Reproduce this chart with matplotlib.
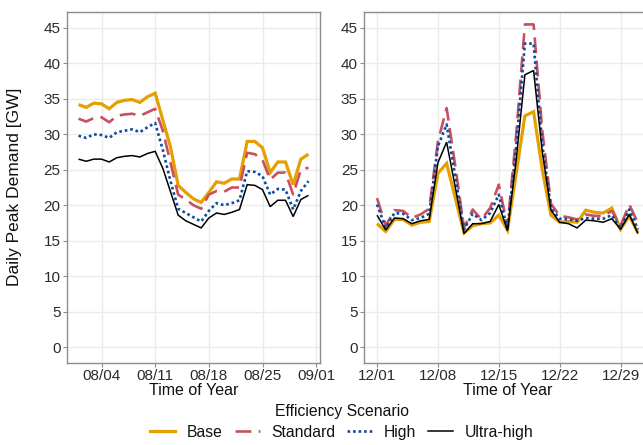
import matplotlib
matplotlib.use("Agg")
import matplotlib.pyplot as plt
import matplotlib.dates as mdates
from matplotlib.lines import Line2D
import pandas as pd

plt.rcParams["font.family"] = ["Liberation Sans", "DejaVu Sans"]

# --- data: daily peak demand [GW] per efficiency scenario ---
aug_days = pd.date_range("2018-08-01", "2018-08-31", freq="D")
dec_days = pd.date_range("2018-12-01", "2018-12-31", freq="D")

scenarios = ["Base", "Standard", "High", "Ultra-high"]

base_aug = [34.2, 33.8, 34.4, 34.3, 33.6, 34.5, 34.8, 34.9, 34.5, 35.3, 35.8,
            32.0, 28.2, 22.8, 21.8, 20.9, 20.4, 21.8, 23.3, 23.1, 23.7, 23.7,
            29.0, 29.0, 28.1, 24.6, 26.1, 26.1, 22.9, 26.5, 27.2]
std_aug = [32.2, 31.8, 32.3, 32.4, 31.7, 32.6, 32.8, 32.9, 32.6, 33.1, 33.6,
           30.5, 26.0, 21.5, 20.8, 20.0, 19.5, 21.5, 22.0, 21.9, 22.5, 22.5,
           27.4, 27.2, 26.4, 23.6, 24.6, 24.6, 21.5, 25.0, 25.3]
high_aug = [29.8, 29.5, 30.0, 29.9, 29.5, 30.3, 30.5, 30.7, 30.3, 31.0, 31.6,
            27.8, 23.4, 19.5, 18.9, 18.3, 17.7, 19.2, 20.3, 20.0, 20.3, 20.7,
            24.8, 24.7, 24.1, 21.5, 22.3, 22.2, 19.4, 22.0, 23.4]
ultra_aug = [26.5, 26.2, 26.5, 26.5, 26.1, 26.7, 26.9, 27.0, 26.8, 27.3, 27.6,
             25.2, 21.9, 18.6, 17.8, 17.3, 16.8, 18.2, 18.9, 18.7, 19.0, 19.4,
             22.9, 22.8, 22.2, 19.8, 20.7, 20.7, 18.4, 20.8, 21.4]

base_dec = [17.4, 16.3, 18.0, 18.0, 17.2, 17.6, 17.7, 24.5, 25.9, 21.0, 16.1,
            17.1, 17.4, 17.5, 18.6, 16.5, 24.5, 32.6, 33.2, 25.0, 18.6, 17.6,
            17.7, 17.6, 19.3, 19.0, 18.9, 19.6, 16.6, 18.5, 16.1]
std_dec = [21.0, 17.1, 19.3, 19.2, 18.2, 18.7, 19.5, 29.0, 33.7, 25.5, 16.8,
           19.4, 18.0, 19.6, 22.9, 17.0, 30.0, 45.5, 45.5, 30.5, 20.2, 18.5,
           18.3, 18.0, 18.7, 18.5, 18.5, 19.2, 17.1, 20.1, 17.5]
high_dec = [20.1, 16.8, 18.9, 18.8, 17.9, 18.2, 18.8, 28.3, 31.4, 24.0, 16.6,
            18.8, 17.9, 18.9, 21.5, 16.6, 28.3, 42.8, 42.8, 28.5, 19.6, 18.1,
            18.0, 17.8, 18.2, 18.1, 18.1, 18.6, 16.8, 19.4, 16.6]
ultra_dec = [18.6, 16.5, 18.2, 18.1, 17.4, 17.8, 18.0, 26.0, 28.9, 22.5, 16.0,
             17.4, 17.4, 17.7, 20.1, 16.4, 26.4, 38.4, 39.0, 27.5, 19.3, 17.6,
             17.4, 16.8, 17.9, 17.8, 17.6, 18.1, 16.6, 18.7, 16.0]

y_ticks = [0, 5, 10, 15, 20, 25, 30, 35, 40, 45]

# --- line styles per scenario ---
styles = {
    "Base": dict(color="#E69F00", lw=2.3, ls="-"),
    "Standard": dict(color="#C9505F", lw=1.9, dashes=(6.0, 2.8)),
    "High": dict(color="#0A4C9E", lw=1.9, dashes=(1.0, 1.1)),
    "Ultra-high": dict(color="#000000", lw=1.1, ls="-"),
}
draw_order = ["Base", "Standard", "High", "Ultra-high"]

W, H = 643, 445
fig = plt.figure(figsize=(W / 100, H / 100), dpi=100)

ax_l = fig.add_axes([67 / W, 1 - 363 / H, (320 - 67) / W, (363 - 12) / H])
ax_r = fig.add_axes([364 / W, 1 - 363 / H, (651 - 364) / W, (363 - 12) / H])

panels = [
    (ax_l, aug_days, [base_aug, std_aug, high_aug, ultra_aug]),
    (ax_r, dec_days, [base_dec, std_dec, high_dec, ultra_dec]),
]

for ax, days, series in panels:
    for name, vals in zip(scenarios, series):
        st = dict(styles[name])
        ax.plot(days, vals, solid_capstyle="butt", dash_capstyle="butt",
                solid_joinstyle="miter", **st)
    pad = pd.Timedelta(days=1.5)
    ax.set_xlim(days[0] - pad, days[-1] + pad)
    ax.set_ylim(-2.25, 47.25)
    ax.set_yticks(y_ticks)
    ax.xaxis.set_major_locator(mdates.WeekdayLocator(byweekday=mdates.SA))
    ax.xaxis.set_major_formatter(mdates.DateFormatter("%m/%d"))
    ax.grid(True, color="#EBEBEB", lw=1.0)
    ax.set_axisbelow(True)
    for sp in ax.spines.values():
        sp.set_color("#8C8C8C")
        sp.set_linewidth(1.0)
    ax.tick_params(axis="both", length=3, width=0.8, color="#8C8C8C",
                   labelsize=11, labelcolor="#2B2B2B", pad=1.5)
    ax.set_xlabel("Time of Year", fontsize=11.5, color="#111111", labelpad=0)

fig.text(15 / W, 1 - 187 / H, "Daily Peak Demand [GW]", rotation=90,
         ha="center", va="center", fontsize=12.5, color="#111111")

handles = [Line2D([0], [0], **styles[n]) for n in draw_order]
leg = fig.legend(handles, draw_order, loc="upper center", ncol=4,
                 bbox_to_anchor=(342 / W, 1 - 404 / H), frameon=False,
                 title="Efficiency Scenario", fontsize=11.3, title_fontsize=11.3,
                 handlelength=1.6, handletextpad=0.75, columnspacing=0.75,
                 borderaxespad=0, borderpad=0, labelspacing=0.3)
leg._legend_box.sep = 4
leg.get_title().set_color("#111111")
for t in leg.get_texts():
    t.set_color("#111111")

fig.savefig("out.png", dpi=100)
